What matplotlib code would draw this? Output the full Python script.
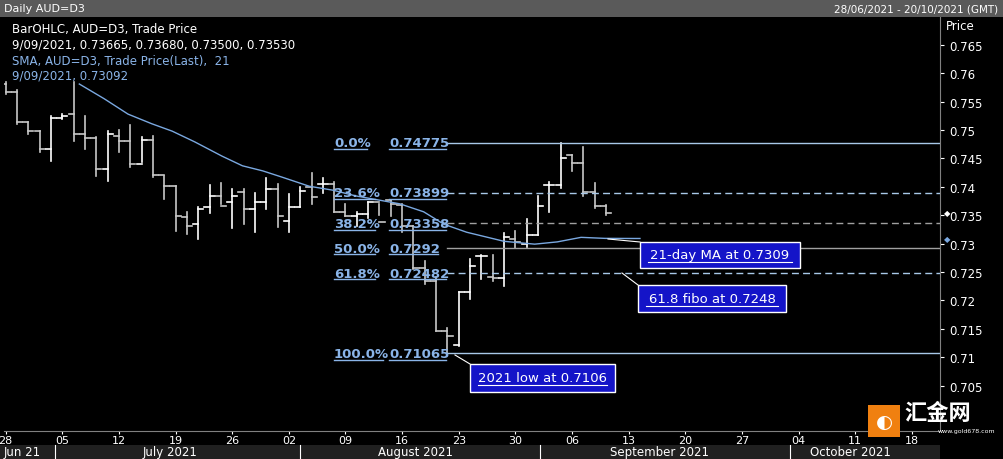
import matplotlib
matplotlib.use("Agg")
import matplotlib.pyplot as plt
from matplotlib.patches import Rectangle

opens  = [.7581,.7567,.7514,.7498,.7467,.7522,.7528,.7493,.7486,.7431,.7489,.7481,.7440,.7482,.7421,.7401,.7347,.7334,.7364,.7384,
          .7373,.7391,.7361,.7373,.7396,.7340,.7364,.7400,.7405,.7405,.7355,.7348,.7352,.7373,.7377,.7368,.7331,.7257,.7234,.7146,
          .7121,.7214,.7278,.7241,.7239,.7308,.7299,.7315,.7403,.7403,.7456,.7442,.7391,.73665]
highs  = [.7585,.7571,.7514,.7498,.7524,.7528,.7585,.7524,.7488,.7498,.7500,.7508,.7488,.7490,.7419,.7401,.7355,.7365,.7404,.7406,
          .7396,.7396,.7389,.7415,.7405,.7387,.7400,.7424,.7415,.7408,.7369,.7355,.7373,.7370,.7377,.7370,.7331,.7269,.7241,.7151,
          .7214,.7273,.7280,.7280,.7318,.7322,.7343,.7384,.7408,.7477,.7456,.7470,.7406,.73680]
lows   = [.7563,.7511,.7493,.7461,.7445,.7520,.7481,.7466,.7419,.7410,.7462,.7434,.7443,.7417,.7378,.7322,.7317,.7308,.7354,.7370,
          .7327,.7335,.7320,.7361,.7329,.7320,.7365,.7370,.7389,.7355,.7348,.7331,.7345,.7350,.7348,.7321,.7255,.7229,.7146,.71065,
          .7120,.7203,.7238,.7234,.7225,.7292,.7294,.7315,.7355,.7398,.7428,.7384,.7363,.73500]
closes = [.7567,.7514,.7498,.7467,.7522,.7524,.7493,.7486,.7431,.7493,.7481,.7440,.7482,.7421,.7401,.7348,.7331,.7361,.7384,.7366,
          .7384,.7361,.7373,.7396,.7348,.7364,.7393,.7382,.7405,.7355,.7348,.7352,.7373,.7338,.7370,.7331,.7257,.7234,.7146,.7137,
          .7214,.7260,.7278,.7239,.7311,.7303,.7315,.7366,.7403,.7451,.7442,.7391,.7366,.73530]

sma_idx = [6.5,8.7,10.8,12.9,14.7,16.7,19.1,20.9,22.7,24.4,26.8,28.9,30.9,34.8,36.9,38.7,40.7,44.0,46.7,48.7,50.8,52.9,55.5,56.0]
sma_val = [.7581,.7555,.7528,.7511,.7498,.7479,.7454,.7437,.7428,.7417,.7401,.7394,.7384,.7370,.7356,.7334,.7320,.7304,.7299,.7303,.7311,.73092,.7309,.7309]

fib_pct = ["0.0%","23.6%","38.2%","50.0%","61.8%","100.0%"]
fib_val = [0.74775,0.73899,0.73358,0.7292,0.72482,0.71065]
fib_lab = ["0.74775","0.73899","0.73358","0.7292","0.72482","0.71065"]
fib_ls  = ["-","--","--","-","--","-"]
fib_col = ["#a8c8e8","#a8c8e8","#a0a0a0","#a0a0a0","#a8c8e8","#a8c8e8"]

tick_idx = list(range(0,85,5))
tick_lab = ["28","05","12","19","26","02","09","16","23","30","06","13","20","27","04","11","18"]
yticks = [0.705,0.71,0.715,0.72,0.725,0.73,0.735,0.74,0.745,0.75,0.755,0.76,0.765]

W,H = 1004,460
fig = plt.figure(figsize=(W/100,H/100),dpi=100,facecolor="black")
ax = fig.add_axes([4/W, 1-432/H, 936/W, 414/H])
ax.set_facecolor("black")
ax.set_xlim(-0.15, (940-12)/11.25)
ax.set_ylim(0.6970, 0.7699)

for i,(o,h,l,c) in enumerate(zip(opens,highs,lows,closes)):
    col = "#ffffff" if c>=o else "#c8c8c8"
    ax.plot([i,i],[l,h],color=col,lw=1.2)
    ax.plot([i-0.45,i],[o,o],color=col,lw=1.2)
    ax.plot([i,i+0.45],[c,c],color=col,lw=1.2)

ax.plot(sma_idx,sma_val,color="#7aa8e0",lw=1)

fx0 = (450-12)/11.25
for p,v,lab,ls,col in zip(fib_pct,fib_val,fib_lab,fib_ls,fib_col):
    ax.plot([fx0,90],[v,v],color=col,lw=1,ls=ls,dashes=(5,3) if ls=="--" else ())
    ax.text((338-12)/11.25,v,p,color="#8ab4e8",fontsize=9.5,fontweight="bold",va="center",ha="left")
    ax.text((393-12)/11.25,v,lab,color="#8ab4e8",fontsize=9.5,fontweight="bold",va="center",ha="left")
    ax.plot([(338-12)/11.25,(338-12)/11.25+len(p)*0.72],[v-0.0011,v-0.0011],color="#8ab4e8",lw=1)
    ax.plot([(393-12)/11.25,(393-12)/11.25+len(lab)*0.72],[v-0.0011,v-0.0011],color="#8ab4e8",lw=1)

ax.set_xticks(tick_idx)
ax.set_xticklabels(tick_lab,color="white",fontsize=8)
ax.tick_params(axis="x",pad=1,length=2)
ax.yaxis.tick_right()
ax.set_yticks(yticks)
ax.set_yticklabels([f"{t:g}" for t in yticks],color="white",fontsize=8.5)
ax.tick_params(colors="white")
ax.tick_params(axis="y",length=3)
for s in ax.spines.values():
    s.set_color("#808080")
ax.spines["top"].set_visible(False)
ax.spines["left"].set_visible(False)

def px(x,y): return (x/W,1-y/H)
def box(x,y,w,h,txt):
    fig.patches.append(Rectangle(px(x,y+h),w/W,h/H,transform=fig.transFigure,facecolor="#1414c8",edgecolor="white",lw=1))
    fig.text((x+w/2)/W,1-(y+h/2)/H,txt,color="white",fontsize=9.5,ha="center",va="center")
    fig.lines.append(plt.Line2D([(x+8)/W,(x+w-8)/W],[1-(y+h/2+7)/H]*2,transform=fig.transFigure,color="white",lw=0.8))
def conn(a,b):
    fig.lines.append(plt.Line2D([a[0]/W,b[0]/W],[1-a[1]/H,1-b[1]/H],transform=fig.transFigure,color="white",lw=0.8))
conn((608,240),(640,243)); box(640,243,160,26,"21-day MA at 0.7309")
conn((622,274),(638,286)); box(638,286,148,27,"61.8 fibo at 0.7248")
conn((455,356),(470,365)); box(470,365,145,28,"2021 low at 0.7106")

fig.patches.append(Rectangle((0,1-18/H),1,18/H,transform=fig.transFigure,facecolor="#5a5a5a"))
fig.text(4/W,1-9/H,"Daily AUD=D3",color="white",fontsize=8,va="center")
fig.text(998/W,1-9/H,"28/06/2021 - 20/10/2021 (GMT)",color="white",fontsize=7.5,va="center",ha="right")
fig.text(946/W,1-26/H,"Price",color="white",fontsize=8.5,va="center")
fig.text(12/W,1-30/H,"BarOHLC, AUD=D3, Trade Price",color="white",fontsize=8.5,va="center")
fig.text(12/W,1-45/H,"9/09/2021, 0.73665, 0.73680, 0.73500, 0.73530",color="white",fontsize=8.5,va="center")
fig.text(12/W,1-61/H,"SMA, AUD=D3, Trade Price(Last),  21",color="#8ab4e8",fontsize=8.5,va="center")
fig.text(12/W,1-76/H,"9/09/2021, 0.73092",color="#8ab4e8",fontsize=8.5,va="center")
fig.text(944/W,1-214/H,"◆",color="white",fontsize=6,va="center")
fig.text(944/W,1-240/H,"◆",color="#7aa8e0",fontsize=6,va="center")

fig.patches.append(Rectangle((0,0),940/W,14/H,transform=fig.transFigure,facecolor="#202020"))
for x,t in [(4,"Jun 21"),(170,"July 2021"),(415,"August 2021"),(660,"September 2021"),(850,"October 2021")]:
    fig.text(x/W,7/H,t,color="white",fontsize=8.5,va="center",ha="left" if x<10 else "center")
for x in [55,300,540,790]:
    conn((x,446),(x,460))

fig.patches.append(Rectangle(px(868,438),32/W,32/H,transform=fig.transFigure,facecolor="#f08010"))
fig.text(884/W,1-422/H,"◐",color="white",fontsize=14,ha="center",va="center")
fig.text(904/W,1-414/H,"汇金网",color="white",fontsize=16,fontweight="bold",va="center",family=["Noto Sans CJK SC","DejaVu Sans"])
fig.text(995/W,1-432/H,"www.gold678.com",color="white",fontsize=4.5,va="center",ha="right")

fig.savefig("out.png",dpi=100,facecolor="black")
